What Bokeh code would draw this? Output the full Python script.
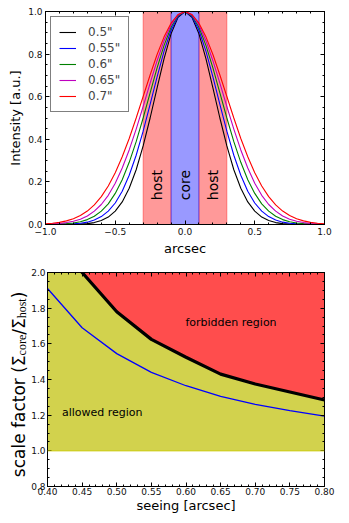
import numpy as np
from bokeh.plotting import figure
from bokeh.layouts import column, row
from bokeh.models import (Range1d, LinearAxis, FixedTicker, CustomJSTickFormatter,
                          CustomLabelingPolicy, Span, Label)
from bokeh.core.properties import value
from bokeh.embed import file_html
from bokeh.resources import INLINE

FONT = "DejaVu Sans"

# ---------------- top panel: seeing profiles ----------------
offsets = [-1.00, -0.95, -0.90, -0.85, -0.80, -0.75, -0.70, -0.65, -0.60, -0.55,
           -0.50, -0.45, -0.40, -0.35, -0.30, -0.25, -0.20, -0.15, -0.10, -0.05,
           0.00, 0.05, 0.10, 0.15, 0.20, 0.25, 0.30, 0.35, 0.40, 0.45,
           0.50, 0.55, 0.60, 0.65, 0.70, 0.75, 0.80, 0.85, 0.90, 0.95, 1.00]

profile_050 = [0.000, 0.000, 0.000, 0.000, 0.001, 0.002, 0.004, 0.009, 0.019, 0.035,
               0.063, 0.106, 0.170, 0.257, 0.369, 0.500, 0.642, 0.779, 0.895, 0.973,
               1.000, 0.973, 0.895, 0.779, 0.642, 0.500, 0.369, 0.257, 0.170, 0.106,
               0.063, 0.035, 0.019, 0.009, 0.004, 0.002, 0.001, 0.000, 0.000, 0.000, 0.000]
profile_055 = [0.000, 0.000, 0.001, 0.001, 0.003, 0.006, 0.011, 0.021, 0.037, 0.063,
               0.101, 0.156, 0.231, 0.325, 0.438, 0.564, 0.693, 0.814, 0.912, 0.977,
               1.000, 0.977, 0.912, 0.814, 0.693, 0.564, 0.438, 0.325, 0.231, 0.156,
               0.101, 0.063, 0.037, 0.021, 0.011, 0.006, 0.003, 0.001, 0.001, 0.000, 0.000]
profile_060 = [0.000, 0.001, 0.002, 0.004, 0.007, 0.013, 0.023, 0.039, 0.063, 0.097,
               0.146, 0.210, 0.292, 0.389, 0.500, 0.618, 0.735, 0.841, 0.926, 0.981,
               1.000, 0.981, 0.926, 0.841, 0.735, 0.618, 0.500, 0.389, 0.292, 0.210,
               0.146, 0.097, 0.063, 0.039, 0.023, 0.013, 0.007, 0.004, 0.002, 0.001, 0.000]
profile_065 = [0.001, 0.003, 0.005, 0.009, 0.015, 0.025, 0.040, 0.063, 0.094, 0.137,
               0.194, 0.265, 0.350, 0.448, 0.554, 0.664, 0.769, 0.863, 0.937, 0.984,
               1.000, 0.984, 0.937, 0.863, 0.769, 0.664, 0.554, 0.448, 0.350, 0.265,
               0.194, 0.137, 0.094, 0.063, 0.040, 0.025, 0.015, 0.009, 0.005, 0.003, 0.001]
profile_070 = [0.003, 0.006, 0.010, 0.017, 0.027, 0.042, 0.063, 0.092, 0.131, 0.181,
               0.243, 0.318, 0.404, 0.500, 0.601, 0.702, 0.798, 0.881, 0.945, 0.986,
               1.000, 0.986, 0.945, 0.881, 0.798, 0.702, 0.601, 0.500, 0.404, 0.318,
               0.243, 0.181, 0.131, 0.092, 0.063, 0.042, 0.027, 0.017, 0.010, 0.006, 0.003]

seeing_labels = ['0.5"', '0.55"', '0.6"', '0.65"', '0.7"']
profile_colors = ["#000000", "#0000ff", "#008000", "#bf00bf", "#ff0000"]

host_left = [-0.3, 0.1]
host_right = [-0.1, 0.3]
core_left = [-0.1]
core_right = [0.1]
region_names = ["host", "core", "host"]
region_centers = [-0.2, 0.0, 0.2]

top_xticks = [-1.0, -0.5, 0.0, 0.5, 1.0]
top_yticks = [0.0, 0.2, 0.4, 0.6, 0.8, 1.0]

# ---------------- bottom panel: scale factor ----------------
seeing = [0.40, 0.45, 0.50, 0.55, 0.60, 0.65, 0.70, 0.75, 0.80]
max_scale = [2.32, 2.00, 1.78, 1.625, 1.525, 1.43, 1.375, 1.33, 1.285]
used_scale = [1.91, 1.69, 1.545, 1.44, 1.365, 1.305, 1.26, 1.225, 1.195]

bot_xticks = [0.40, 0.45, 0.50, 0.55, 0.60, 0.65, 0.70, 0.75, 0.80]
bot_yticks = [0.8, 1.0, 1.2, 1.4, 1.6, 1.8, 2.0]


def minor(a, b, step):
    return [round(v, 3) for v in np.arange(a, b + step / 2, step)]


def style_axis(ax, ticks, minors, fmt, show_labels=True):
    ax.ticker = FixedTicker(ticks=ticks, minor_ticks=minors)
    ax.major_tick_in = 4
    ax.major_tick_out = 0
    ax.minor_tick_in = 2
    ax.minor_tick_out = 0
    ax.major_tick_line_color = "black"
    ax.minor_tick_line_color = "black"
    ax.axis_line_color = "black"
    ax.major_label_standoff = 3
    ax.major_label_text_font = FONT
    ax.major_label_text_color = "#111111"
    ax.major_label_text_font_size = "9px"
    ax.formatter = CustomJSTickFormatter(
        code="return tick.toFixed(%d).replace('-', '\u2212');" % fmt)
    if not show_labels:
        ax.major_label_standoff = 0
        ax.major_label_policy = CustomLabelingPolicy(code="return new Set()")
    ax.axis_label_text_font = FONT
    ax.axis_label_text_font_style = "normal"
    ax.axis_label_text_color = "black"


# ================= top figure =================
p1 = figure(width=341, height=260, output_backend="svg", toolbar_location=None,
            x_range=Range1d(-1, 1), y_range=Range1d(0, 1),
            min_border_left=45, min_border_right=12, min_border_top=11, min_border_bottom=36)
p1.grid.visible = False
p1.outline_line_color = "black"
p1.background_fill_color = "white"
p1.border_fill_color = "white"

p1.quad(left=host_left, right=host_right, bottom=0, top=1,
        fill_color="#ff0000", fill_alpha=0.4, line_color="#ff0000", line_alpha=0.4, line_width=1)
p1.quad(left=core_left, right=core_right, bottom=0, top=1,
        fill_color="#0000ff", fill_alpha=0.4, line_color="#0000ff", line_alpha=0.4, line_width=1)

for prof, lab_txt, col in zip([profile_050, profile_055, profile_060, profile_065, profile_070],
                              seeing_labels, profile_colors):
    p1.line(offsets, prof, line_color=col, line_width=1.1, legend_label=lab_txt)

p1.text(x=region_centers, y=[0.185, 0.185, 0.185], text=region_names, angle=np.pi / 2,
        text_font=value(FONT), text_font_size="14px", text_align="center",
        text_baseline="middle", text_color="black")

style_axis(p1.xaxis[0], top_xticks, minor(-1, 1, 0.1), 1)
style_axis(p1.yaxis[0], top_yticks, minor(0, 1, 0.05), 1)
p1.xaxis[0].axis_label = "arcsec"
p1.xaxis[0].axis_label_text_font_size = "13px"
p1.xaxis[0].axis_label_standoff = 3
p1.yaxis[0].axis_label = "Intensity [a.u.]"
p1.yaxis[0].axis_label_text_font_size = "13px"
p1.yaxis[0].axis_label_standoff = 2

ax_top = LinearAxis()
style_axis(ax_top, top_xticks, minor(-1, 1, 0.1), 1, show_labels=False)
p1.add_layout(ax_top, "above")
ax_right = LinearAxis()
style_axis(ax_right, top_yticks, minor(0, 1, 0.05), 1, show_labels=False)
p1.add_layout(ax_right, "right")

lg = p1.legend[0]
lg.location = "top_left"
lg.margin = 5
lg.padding = 8
lg.spacing = 2
lg.glyph_width = 17
lg.glyph_height = 12
lg.label_height = 12
lg.label_standoff = 12
lg.label_text_font = FONT
lg.label_text_font_size = "12px"
lg.label_text_line_height = 1.0
lg.border_line_color = "black"
lg.border_line_width = 1
lg.background_fill_color = "white"
lg.background_fill_alpha = 1

# ================= bottom figure =================
LABEL_W = 28
p2 = figure(width=341 - LABEL_W, height=261, output_backend="svg", toolbar_location=None,
            x_range=Range1d(0.4, 0.8), y_range=Range1d(0.8, 2.0),
            min_border_left=45 - LABEL_W, min_border_right=12, min_border_top=12,
            min_border_bottom=35)
p2.grid.visible = False
p2.outline_line_color = "black"
p2.background_fill_color = "white"
p2.border_fill_color = "white"

p2.varea(x=seeing, y1=1.0, y2=max_scale, fill_color="#d2d24d")
p2.varea(x=seeing, y1=max_scale, y2=2.0, fill_color="#ff4d4d")
p2.add_layout(Span(location=1.0, dimension="width", line_color="#c8c800", line_width=1))
p2.line(seeing, used_scale, line_color="#0000ff", line_width=1.3)
p2.line(seeing, max_scale, line_color="black", line_width=3.2)

p2.text(x=[0.665], y=[1.72], text=["forbidden region"], text_font=value(FONT),
        text_font_size="11px", text_align="center", text_baseline="middle", text_color="black")
p2.text(x=[0.479], y=[1.216], text=["allowed region"], text_font=value(FONT),
        text_font_size="11px", text_align="center", text_baseline="middle", text_color="black")

style_axis(p2.xaxis[0], bot_xticks, minor(0.4, 0.8, 0.01), 2)
style_axis(p2.yaxis[0], bot_yticks, minor(0.8, 2.0, 0.05), 1)
p2.yaxis[0].major_label_standoff = 2
p2.xaxis[0].major_label_standoff = 1
p2.xaxis[0].axis_label = "seeing [arcsec]"
p2.xaxis[0].axis_label_text_font_size = "13px"
p2.xaxis[0].axis_label_standoff = 0

ax_top2 = LinearAxis()
style_axis(ax_top2, bot_xticks, minor(0.4, 0.8, 0.01), 2, show_labels=False)
p2.add_layout(ax_top2, "above")
ax_right2 = LinearAxis()
style_axis(ax_right2, bot_yticks, minor(0.8, 2.0, 0.05), 1, show_labels=False)
p2.add_layout(ax_right2, "right")

# y-axis label of the bottom panel (with subscripts), drawn in a narrow strip figure
# whose frame is aligned with the bottom panel's frame; coordinates in pixels
# (x from the strip's left edge, y up from the frame's bottom edge)
FRAME_H = 261 - 12 - 35
lab = figure(width=LABEL_W, height=261, output_backend="svg", toolbar_location=None,
             x_range=Range1d(0, LABEL_W), y_range=Range1d(0, FRAME_H),
             x_axis_location=None, y_axis_location=None, min_border=0,
             min_border_top=12, min_border_bottom=35)
lab.grid.visible = False
lab.outline_line_color = None
lab.background_fill_color = "white"
lab.border_fill_color = "white"
pieces = [
    ("scale factor (\u03a3", FONT, "17px", 18.6, 9.3),
    ("core", "Liberation Serif", "12px", 21.0, 131.1),
    ("/\u03a3", FONT, "17px", 18.6, 151.8),
    ("host", "Liberation Serif", "12px", 21.0, 168.2),
    (")", FONT, "17px", 18.6, 188.2),
]
for txt, fnt, size, sx, sy in pieces:
    lab.add_layout(Label(x=sx, y=sy, x_units="data", y_units="data", text=txt,
                         angle=90, angle_units="deg", text_font=fnt, text_font_size=size,
                         text_align="left", text_baseline="alphabetic", text_color="black"))

layout = column(p1, row(lab, p2))
open("out.html", "w").write(file_html(layout, INLINE))
